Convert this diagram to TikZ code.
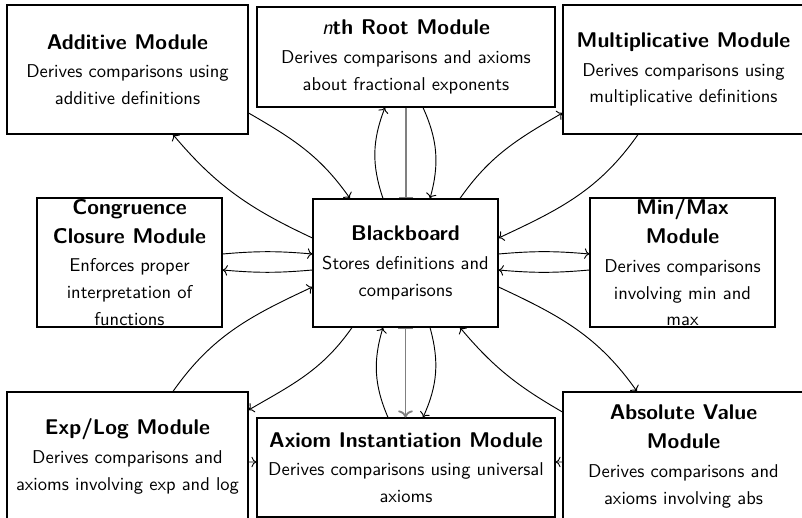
\documentclass[tikz,border=0pt]{standalone}
\usepackage{tikz}
\usetikzlibrary{calc,arrows.meta}

\newcommand{\px}{0.54pt}
\newcommand{\modname}[1]{{\bfseries\fontsize{11.5}{14}\selectfont #1}}

\tikzset{
	modbox/.style={draw, line width=0.6pt, inner sep=0pt},
	modtext/.style={align=center, font=\sffamily\fontsize{10}{14.5}\selectfont},
	link/.style={->, line width=0.5pt},
	barlink/.style={line width=1pt, gray},
}

\begin{document}
\begin{tikzpicture}[x=\px, y=-\px]
		\useasboundingbox (0,0) rectangle (802,518);

		\node[modbox, minimum width=241*\px, minimum height=129*\px] (add) at (127.5,69.5) {};
		\node[modbox, minimum width=298*\px, minimum height=100*\px] (root) at (406,57) {};
		\node[modbox, minimum width=241*\px, minimum height=129*\px] (mul) at (683.5,69.5) {};
		\node[modbox, minimum width=185*\px, minimum height=129*\px] (cong) at (129.5,262.5) {};
		\node[modbox, minimum width=185*\px, minimum height=128*\px] (bb) at (405.5,263) {};
		\node[modbox, minimum width=185*\px, minimum height=129*\px] (minmax) at (682.5,262.5) {};
		\node[modbox, minimum width=241*\px, minimum height=129*\px] (explog) at (127.5,456.5) {};
		\node[modbox, minimum width=298*\px, minimum height=99*\px] (inst) at (406,467.5) {};
		\node[modbox, minimum width=241*\px, minimum height=129*\px] (absval) at (683.5,456.5) {};

		\node[modtext] (addtxt) at (add) {\modname{Additive Module}\\[1pt]Derives comparisons using\\additive definitions};
		\node[modtext] (roottxt) at (root) {\modname{{\mdseries\itshape n}th Root Module}\\[1pt]Derives comparisons and axioms\\about fractional exponents};
		\node[modtext] (multxt) at (mul) {\modname{Multiplicative Module}\\[1pt]Derives comparisons using\\multiplicative definitions};
		\node[modtext] (congtxt) at (cong) {\modname{Congruence}\\[1pt]\modname{Closure Module}\\[1pt]Enforces proper\\interpretation of\\functions};
		\node[modtext] (bbtxt) at (bb) {\modname{Blackboard}\\[1pt]Stores definitions and\\comparisons};
		\node[modtext] (minmaxtxt) at (minmax) {\modname{Min/Max}\\[1pt]\modname{Module}\\[1pt]Derives comparisons\\involving min and\\max};
		\node[modtext] (explogtxt) at (explog) {\modname{Exp/Log Module}\\[1pt]Derives comparisons and\\axioms involving exp and log};
		\node[modtext] (insttxt) at (inst) {\modname{Axiom Instantiation Module}\\[1pt]Derives comparisons using universal\\axioms};
		\node[modtext] (absvaltxt) at (absval) {\modname{Absolute Value}\\[1pt]\modname{Module}\\[1pt]Derives comparisons and\\axioms involving abs};

		\draw[link] ($(add.east)+(0,43.5)$) to[out=-30,in=125] ($(bb.north)+(-55.5,0)$);
		\draw[link] ($(bb.west)+(0,-25)$) to[out=155,in=-50] ($(add.south)+(45.5,0)$);

		\draw[link] ($(bb.north)+(-22.5,0)$) to[bend left=20] ($(root.south)+(-21,0)$);
		\draw[barlink,-{Bar[width=8pt]}] (root.south) -- (root.south |- bb.north);
		\draw[link] ($(root.south)+(17,0)$) to[bend left=20] ($(bb.north)+(24.5,0)$);

		\draw[link] ($(bb.north)+(54.5,0)$) to[out=55,in=-150] ($(mul.west)+(0,43.5)$);
		\draw[link] ($(mul.south)+(-45.5,0)$) to[out=-125,in=25] ($(bb.east)+(0,-25)$);

		\draw[link] ($(cong.east)+(0,-8.5)$) to[bend left=5] ($(bb.west)+(0,-9)$);
		\draw[link] ($(bb.west)+(0,7)$) to[bend left=5] ($(cong.east)+(0,7.5)$);
		\draw[link] ($(bb.east)+(0,-9)$) to[bend left=5] ($(minmax.west)+(0,-8.5)$);
		\draw[link] ($(minmax.west)+(0,7.5)$) to[bend left=5] ($(bb.east)+(0,7)$);

		\draw[link] ($(explog.north)+(45.5,0)$) to[out=55,in=-155] ($(bb.west)+(0,24)$);
		\draw[link] ($(bb.south)+(-53.5,0)$) to[out=-125,in=30] ($(explog.east)+(0,-46.5)$);

		\draw[link] ($(inst.north)+(-18,0)$) to[bend left=20] ($(bb.south)+(-22.5,0)$);
		\draw[barlink,{Bar[width=8pt]}->] (bb.south) -- (bb.south |- inst.north);
		\draw[link] ($(bb.south)+(24.5,0)$) to[bend left=20] ($(inst.north)+(17,0)$);

		\draw[link] ($(absval.west)+(0,-44.5)$) to[out=150,in=-50] ($(bb.south)+(54.5,0)$);
		\draw[link] ($(bb.east)+(0,24)$) to[out=-25,in=125] ($(absval.north)+(-46.5,0)$);

		\draw[link] ($(explog.east)+(0,5.5)$) -- ($(inst.west)+(0,-5.5)$);
		\draw[link] ($(absval.west)+(0,5.5)$) -- ($(inst.east)+(0,-5.5)$);
\end{tikzpicture}
\end{document}
